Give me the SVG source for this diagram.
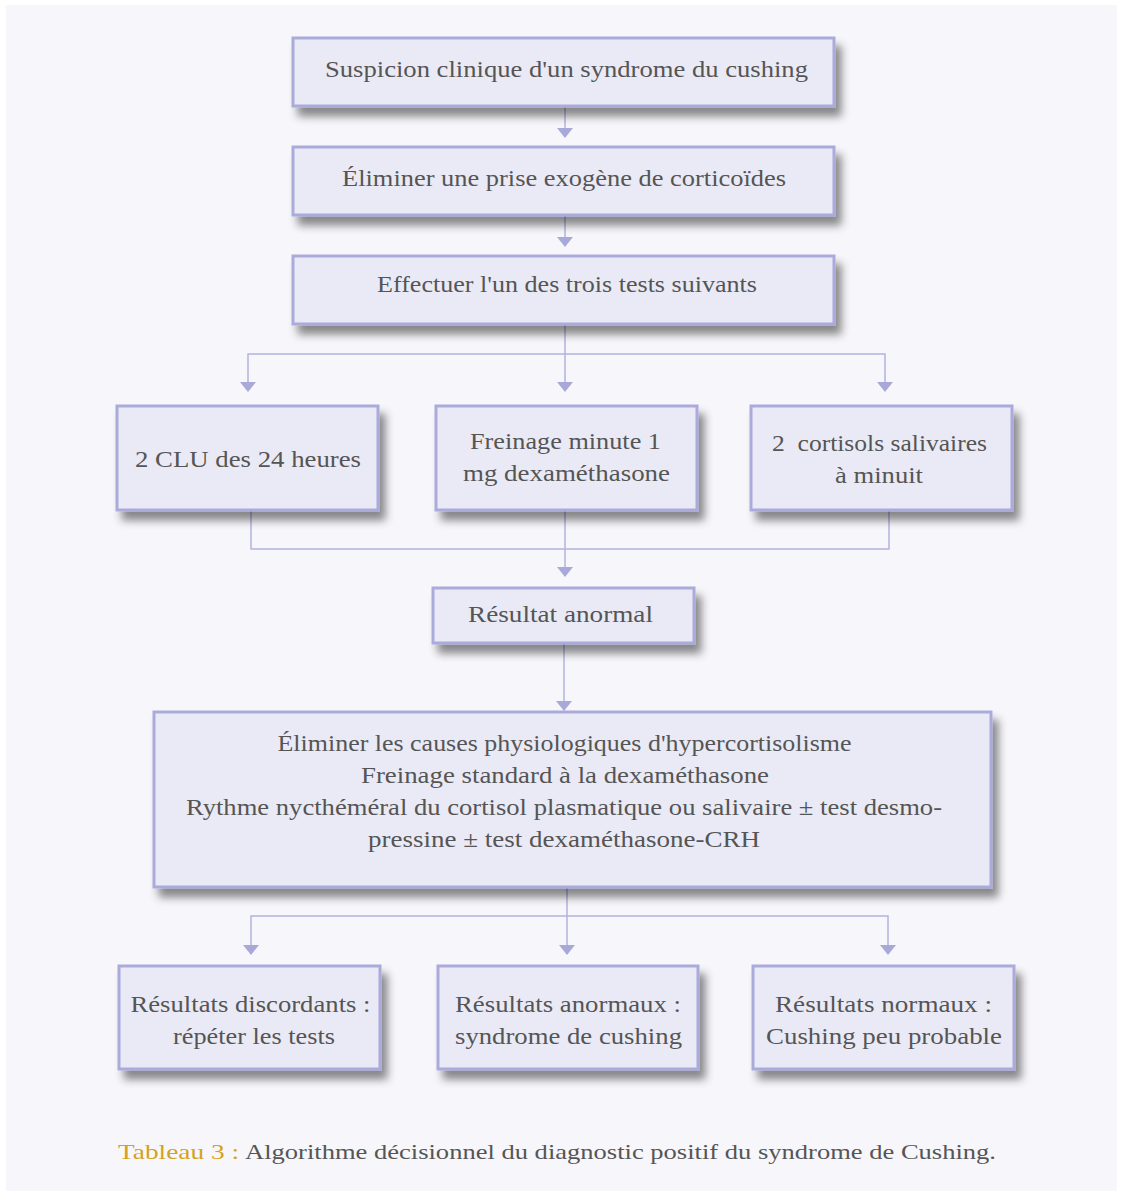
<svg xmlns="http://www.w3.org/2000/svg" width="1122" height="1194" viewBox="0 0 1122 1194">
<defs>
<filter id="sh" x="-10%" y="-20%" width="130%" height="160%">
<feDropShadow dx="6" dy="9" stdDeviation="4" flood-color="#000" flood-opacity="0.45"/>
</filter>
</defs>
<style>
.box{fill:#eaeaf6;stroke:#aaaadb;stroke-width:3;filter:url(#sh)}
.t{font-family:'Liberation Serif','DejaVu Serif',serif;font-size:23px;fill:#555;text-anchor:middle}
.c{fill:none;stroke:#b3b3df;stroke-width:1.5}
.a{fill:#a9a9d9}
</style>
<rect x="6" y="5" width="1111" height="1186" fill="#f7f7fb"/>
<g id="connectors">
<path class="c" d="M565,106 V128"/>
<path class="a" d="M557,128 H573 L565,138 Z"/>
<path class="c" d="M565,215 V237"/>
<path class="a" d="M557,237 H573 L565,247 Z"/>
<path class="c" d="M565,324 V382 M565,354 H248 V382 M565,354 H885 V382"/>
<path class="a" d="M240,382 H256 L248,392 Z"/>
<path class="a" d="M557,382 H573 L565,392 Z"/>
<path class="a" d="M877,382 H893 L885,392 Z"/>
<path class="c" d="M251,510 V549 H889 V510 M565,510 V567"/>
<path class="a" d="M557,567 H573 L565,577 Z"/>
<path class="c" d="M564,643 V701"/>
<path class="a" d="M556,701 H572 L564,711 Z"/>
<path class="c" d="M567,887 V945 M567,916 H251 V945 M567,916 H888 V945"/>
<path class="a" d="M243,945 H259 L251,955 Z"/>
<path class="a" d="M559,945 H575 L567,955 Z"/>
<path class="a" d="M880,945 H896 L888,955 Z"/>
</g>
<g id="n1"><rect class="box" x="293" y="38" width="541" height="68"/><text class="t" x="566.5" y="77" textLength="483" lengthAdjust="spacingAndGlyphs">Suspicion clinique d'un syndrome du cushing</text></g>
<g id="n2"><rect class="box" x="293" y="147" width="541" height="68"/><text class="t" x="564" y="186" textLength="444" lengthAdjust="spacingAndGlyphs">Éliminer une prise exogène de corticoïdes</text></g>
<g id="n3"><rect class="box" x="293" y="256" width="541" height="68"/><text class="t" x="567" y="292" textLength="380" lengthAdjust="spacingAndGlyphs">Effectuer l'un des trois tests suivants</text></g>
<g id="n4"><rect class="box" x="117" y="406" width="261" height="104"/><text class="t" x="248" y="467" textLength="226" lengthAdjust="spacingAndGlyphs">2 CLU des 24 heures</text></g>
<g id="n5"><rect class="box" x="436" y="406" width="261" height="104"/><text class="t" x="565.5" y="449" textLength="191" lengthAdjust="spacingAndGlyphs">Freinage minute 1</text><text class="t" x="566.5" y="481" textLength="207" lengthAdjust="spacingAndGlyphs">mg dexaméthasone</text></g>
<g id="n6"><rect class="box" x="751" y="406" width="261" height="104"/><text class="t" x="879.5" y="451" xml:space="preserve" textLength="215" lengthAdjust="spacingAndGlyphs">2  cortisols salivaires</text><text class="t" x="879" y="483" textLength="88" lengthAdjust="spacingAndGlyphs">à minuit</text></g>
<g id="n7"><rect class="box" x="433" y="588" width="261" height="55"/><text class="t" x="560.5" y="622" textLength="185" lengthAdjust="spacingAndGlyphs">Résultat anormal</text></g>
<g id="n8"><rect class="box" x="154" y="712" width="837" height="175"/>
<text class="t" x="564.5" y="751" textLength="574" lengthAdjust="spacingAndGlyphs">Éliminer les causes physiologiques d'hypercortisolisme</text>
<text class="t" x="565" y="783" textLength="408" lengthAdjust="spacingAndGlyphs">Freinage standard à la dexaméthasone</text>
<text class="t" x="564" y="815" textLength="756" lengthAdjust="spacingAndGlyphs">Rythme nycthéméral du cortisol plasmatique ou salivaire ± test desmo-</text>
<text class="t" x="564" y="847" textLength="392" lengthAdjust="spacingAndGlyphs">pressine ± test dexaméthasone-CRH</text></g>
<g id="n9"><rect class="box" x="119" y="966" width="261" height="103"/><text class="t" x="250.5" y="1012" textLength="240" lengthAdjust="spacingAndGlyphs">Résultats discordants :</text><text class="t" x="254" y="1044" textLength="162" lengthAdjust="spacingAndGlyphs">répéter les tests</text></g>
<g id="n10"><rect class="box" x="438" y="966" width="260" height="103"/><text class="t" x="568" y="1012" textLength="226" lengthAdjust="spacingAndGlyphs">Résultats anormaux :</text><text class="t" x="568.5" y="1044" textLength="227" lengthAdjust="spacingAndGlyphs">syndrome de cushing</text></g>
<g id="n11"><rect class="box" x="753" y="966" width="261" height="103"/><text class="t" x="883.5" y="1012" textLength="217" lengthAdjust="spacingAndGlyphs">Résultats normaux :</text><text class="t" x="884" y="1044" textLength="236" lengthAdjust="spacingAndGlyphs">Cushing peu probable</text></g>
<g id="caption" font-family="'Liberation Serif','DejaVu Serif',serif" font-size="22">
<text x="118" y="1159" fill="#d4a21c" textLength="121" lengthAdjust="spacingAndGlyphs">Tableau 3 :</text>
<text x="245" y="1159" fill="#555" textLength="751" lengthAdjust="spacingAndGlyphs">Algorithme décisionnel du diagnostic positif du syndrome de Cushing.</text>
</g>
</svg>
